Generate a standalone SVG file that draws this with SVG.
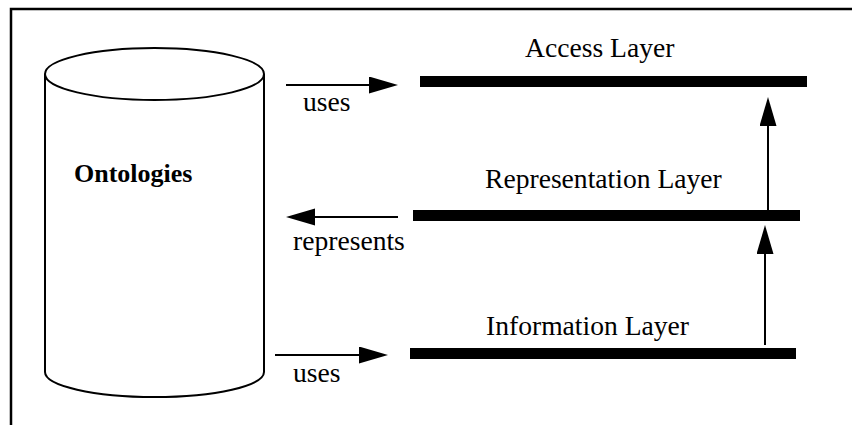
<svg xmlns="http://www.w3.org/2000/svg" width="852" height="425" viewBox="0 0 852 425">
  <style>
    .frame { stroke: #000; stroke-width: 2.5; fill: none; }
    .cyl { stroke: #000; stroke-width: 2; fill: #fff; }
    .bar { fill: #000; }
    .conn { stroke: #000; stroke-width: 2; fill: none; }
    .lbl { font-family: "Liberation Serif", serif; font-size: 27.6px; fill: #000; }
    .title { font-family: "Liberation Serif", serif; font-size: 26px; font-weight: bold; fill: #000; }
  </style>
  <defs>
    <marker id="head" markerUnits="userSpaceOnUse" markerWidth="30" markerHeight="18" refX="0" refY="8.5" orient="auto">
      <path d="M0,0 L29,8.5 L0,17 Z" fill="#000"/>
    </marker>
  </defs>

  <rect width="852" height="425" fill="#fff"/>

  <!-- page frame: top and left edges -->
  <path class="frame" d="M11,425 L11,9 L852,9"/>

  <!-- ontology store -->
  <g id="ontologies">
    <path class="cyl" d="M45,74 L45,372 A109.5,25 0 0 0 264,372 L264,74"/>
    <ellipse class="cyl" cx="154.5" cy="74" rx="109.5" ry="26"/>
    <text class="title" x="74" y="182">Ontologies</text>
  </g>

  <!-- layers -->
  <g id="access-layer">
    <rect class="bar" x="420" y="76" width="387" height="11"/>
    <text class="lbl" x="525" y="57">Access Layer</text>
  </g>
  <g id="representation-layer">
    <rect class="bar" x="413" y="210" width="387" height="11"/>
    <text class="lbl" x="485" y="188">Representation Layer</text>
  </g>
  <g id="information-layer">
    <rect class="bar" x="410" y="348" width="386" height="11"/>
    <text class="lbl" x="486" y="335">Information Layer</text>
  </g>

  <!-- connectors -->
  <g id="connectors">
    <line class="conn" x1="286" y1="85" x2="369" y2="85" marker-end="url(#head)"/>
    <text class="lbl" x="303" y="111">uses</text>

    <line class="conn" x1="398" y1="217" x2="315" y2="217" marker-end="url(#head)"/>
    <text class="lbl" x="293" y="250">represents</text>

    <line class="conn" x1="275" y1="355" x2="359" y2="355" marker-end="url(#head)"/>
    <text class="lbl" x="293" y="382">uses</text>

    <line class="conn" x1="768" y1="210" x2="768" y2="126" marker-end="url(#head)"/>
    <line class="conn" x1="765" y1="345" x2="765" y2="254" marker-end="url(#head)"/>
  </g>
</svg>
